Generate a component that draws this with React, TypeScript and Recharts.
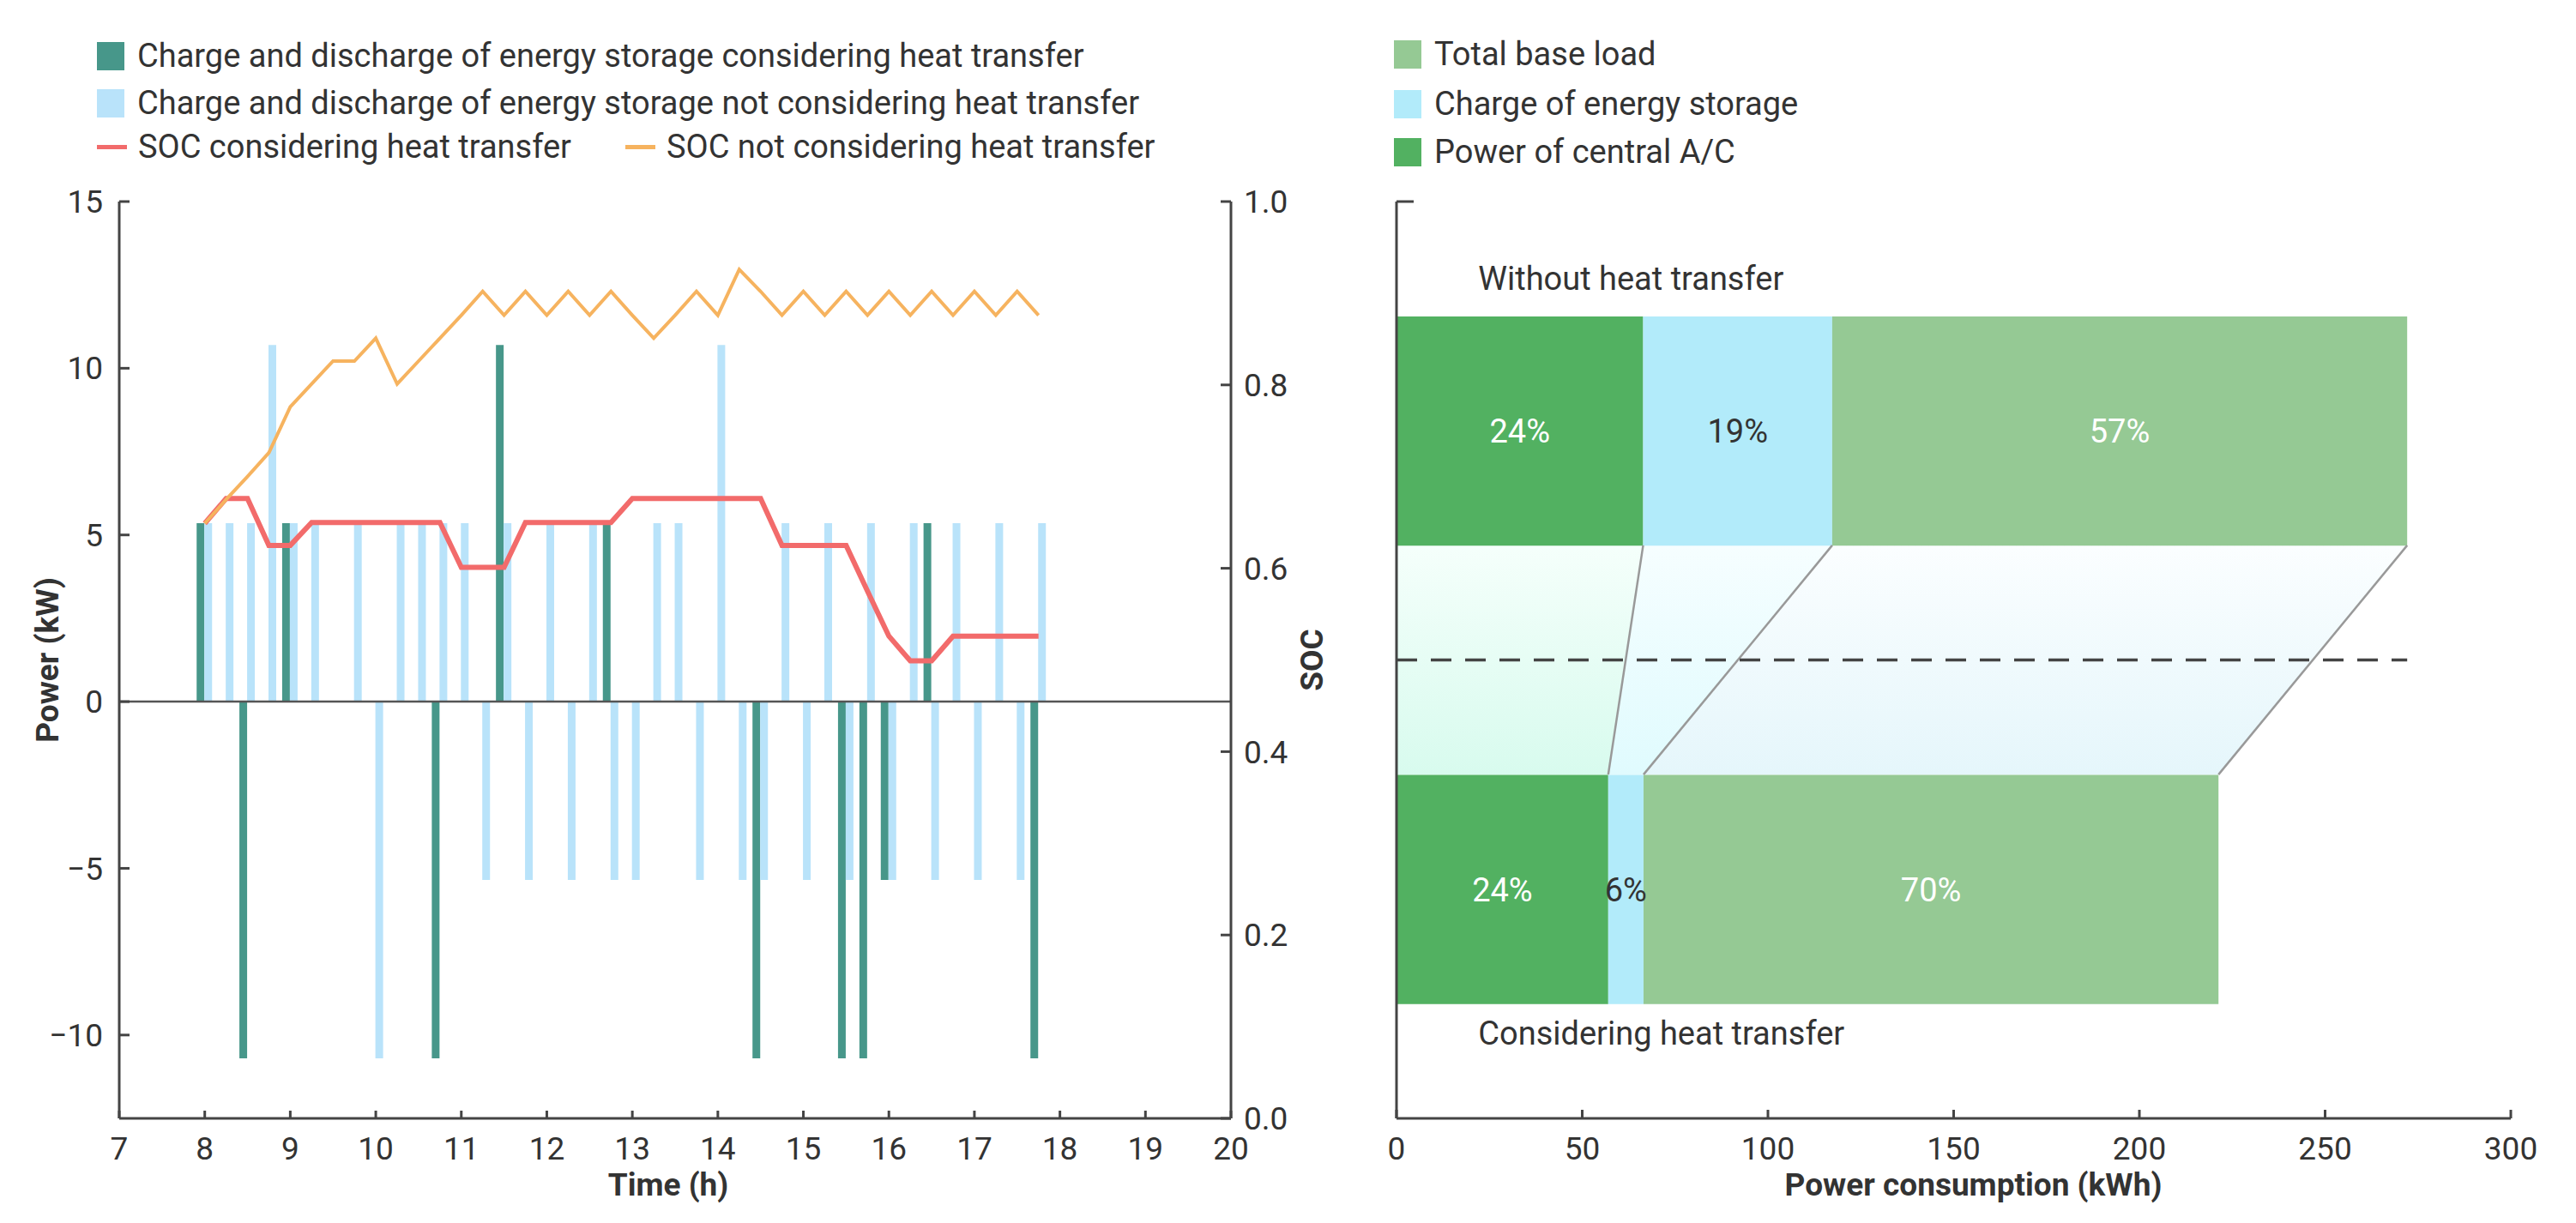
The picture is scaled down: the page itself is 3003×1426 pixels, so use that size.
import React from 'react';
import {
  ComposedChart,
  Bar,
  Line,
  Area,
  XAxis,
  YAxis,
  ReferenceLine,
  ReferenceDot,
  LabelList,
} from 'recharts';

const FONT = 'Roboto, "Noto Sans", sans-serif';
const TEXT = '#333333';
const AXIS = '#444444';

// ---- left panel: storage schedule and SOC ----
const timeSlots = [
  8, 8.25, 8.5, 8.75, 9, 9.25, 9.5, 9.75, 10, 10.25, 10.5, 10.75, 11, 11.25, 11.5, 11.75,
  12, 12.25, 12.5, 12.75, 13, 13.25, 13.5, 13.75, 14, 14.25, 14.5, 14.75, 15, 15.25, 15.5, 15.75,
  16, 16.25, 16.5, 16.75, 17, 17.25, 17.5, 17.75,
];
const powerWithHeat = [
  5.35, 0, -10.7, 0, 5.35, 0, 0, 0, 0, 0, 0, -10.7, 0, 0, 10.7, 0,
  0, 0, 0, 5.35, 0, 0, 0, 0, 0, 0, -10.7, 0, 0, 0, -10.7, -10.7,
  -5.35, 0, 5.35, 0, 0, 0, 0, -10.7,
];
const powerNoHeat = [
  5.35, 5.35, 5.35, 10.7, 5.35, 5.35, 0, 5.35, -10.7, 5.35, 5.35, 5.35, 5.35, -5.35, 5.35, -5.35,
  5.35, -5.35, 5.35, -5.35, -5.35, 5.35, 5.35, -5.35, 10.7, -5.35, -5.35, 5.35, -5.35, 5.35, -5.35, 5.35,
  -5.35, 5.35, -5.35, 5.35, -5.35, 5.35, -5.35, 5.35,
];
const socWithHeat = [
  0.649, 0.676, 0.676, 0.625, 0.625, 0.65, 0.65, 0.65, 0.65, 0.65, 0.65, 0.65, 0.601, 0.601, 0.601, 0.65,
  0.65, 0.65, 0.65, 0.65, 0.676, 0.676, 0.676, 0.676, 0.676, 0.676, 0.676, 0.625, 0.625, 0.625, 0.625, 0.575,
  0.526, 0.499, 0.499, 0.526, 0.526, 0.526, 0.526, 0.526,
];
const socNoHeat = [
  0.649, 0.675, 0.7, 0.726, 0.776, 0.801, 0.826, 0.826, 0.851, 0.801, 0.826, 0.851, 0.876, 0.902, 0.876, 0.902,
  0.876, 0.902, 0.876, 0.902, 0.876, 0.851, 0.876, 0.902, 0.876, 0.926, 0.902, 0.876, 0.902, 0.876, 0.902, 0.876,
  0.902, 0.876, 0.902, 0.876, 0.902, 0.876, 0.902, 0.876,
];
const timeTicks = [7, 8, 9, 10, 11, 12, 13, 14, 15, 16, 17, 18, 19, 20];
const powerTicks = [-10, -5, 0, 5, 10, 15];
const socTicks = [0, 0.2, 0.4, 0.6, 0.8, 1];

// ---- right panel: energy consumption breakdown ----
const rowNames = ['Without heat transfer', 'Considering heat transfer'];
const rowPos = [0.25, 0.75];
const acPower = [66.4, 57.0];
const storagePower = [50.9, 9.5];
const baseLoad = [154.8, 154.8];
const acShare = ['24%', '24%'];
const storageShare = ['19%', '6%'];
const baseShare = ['57%', '70%'];
const consumptionTicks = [0, 50, 100, 150, 200, 250, 300];
const rowTicks = [0, 0.25, 0.5, 0.75, 1];

const BAR_HALF = 0.125;
const PLOT_H = 1069;

const storageData = timeSlots.map((t, i) => ({
  t,
  withHeat: powerWithHeat[i],
  noHeat: powerNoHeat[i],
  socWith: socWithHeat[i],
  socNo: socNoHeat[i],
}));

const consumptionData = rowPos.map((y, i) => ({
  y,
  ac: acPower[i],
  storage: storagePower[i],
  base: baseLoad[i],
  acPct: acShare[i],
  storagePct: storageShare[i],
  basePct: baseShare[i],
}));

const cumulative = rowPos.map((_, i) => [
  acPower[i],
  acPower[i] + storagePower[i],
  acPower[i] + storagePower[i] + baseLoad[i],
]);
const upperEdge = rowPos[0] + BAR_HALF;
const lowerEdge = rowPos[1] - BAR_HALF;

const regions = [0, 1, 2].map((k) => [
  { y: upperEdge, r: [k === 0 ? 0 : cumulative[0][k - 1], cumulative[0][k]] },
  { y: lowerEdge, r: [k === 0 ? 0 : cumulative[1][k - 1], cumulative[1][k]] },
]);
const edges = [0, 1, 2].map((k) => [
  { y: upperEdge, x: cumulative[0][k] },
  { y: lowerEdge, x: cumulative[1][k] },
]);
const regionFills = [
  ['#f5fffb', '#d8fbee'],
  ['#f6feff', '#e0fbfe'],
  ['#fbfeff', '#e5f6fb'],
];

const minus = (v: number) => (v < 0 ? `\u2212${Math.abs(v)}` : `${v}`);

const tickStyle = { fontSize: 37, fill: TEXT, fontFamily: FONT };
const titleStyle = { fontSize: 37, fontWeight: 700, fill: TEXT, fontFamily: FONT };

const TopTick = (props: any) => {
  if (props.payload?.value !== 0) return <g />;
  return <line x1={props.x} x2={props.x + 20} y1={props.y} y2={props.y} stroke={AXIS} strokeWidth={3} />;
};

type LegendItem = { kind: 'rect' | 'line'; color: string; text: string; x: number; y: number };

const leftLegend: LegendItem[] = [
  { kind: 'rect', color: '#47978a', text: 'Charge and discharge of energy storage considering heat transfer', x: 113, y: 65 },
  { kind: 'rect', color: '#b9e3fa', text: 'Charge and discharge of energy storage not considering heat transfer', x: 113, y: 120 },
  { kind: 'line', color: '#f26b6b', text: 'SOC considering heat transfer', x: 113, y: 171 },
  { kind: 'line', color: '#f6b35f', text: 'SOC not considering heat transfer', x: 729, y: 171 },
];
const rightLegend: LegendItem[] = [
  { kind: 'rect', color: '#95c994', text: 'Total base load', x: 1625, y: 63 },
  { kind: 'rect', color: '#b2ebfa', text: 'Charge of energy storage', x: 1625, y: 121 },
  { kind: 'rect', color: '#52b161', text: 'Power of central A/C', x: 1625, y: 177 },
];

const LegendEntry = ({ item }: { item: LegendItem }) => (
  <div
    style={{
      position: 'absolute',
      left: item.x,
      top: item.y - 25,
      height: 50,
      display: 'flex',
      alignItems: 'center',
      whiteSpace: 'nowrap',
      fontSize: 38,
      color: TEXT,
    }}
  >
    <span
      style={{
        display: 'inline-block',
        flex: 'none',
        width: item.kind === 'rect' ? 32 : 35,
        height: item.kind === 'rect' ? 33 : 5,
        background: item.color,
        marginRight: item.kind === 'rect' ? 15 : 13,
      }}
    />
    {item.text}
  </div>
);

const StorageChart = () => (
  <ComposedChart
    width={1640}
    height={1426}
    data={storageData}
    margin={{ top: 235, right: 17, bottom: 0, left: 0 }}
    barGap={0}
    style={{ fontFamily: FONT }}
  >
    <XAxis
      type="number"
      dataKey="t"
      domain={[7, 20]}
      ticks={timeTicks}
      interval={0}
      height={122}
      stroke={AXIS}
      strokeWidth={3}
      tickSize={-9}
      tickMargin={31}
      tick={tickStyle}
      label={{ value: 'Time (h)', position: 'insideBottom', offset: 32, dx: -8, ...titleStyle }}
    />
    <YAxis
      yAxisId="p"
      domain={[-12.5, 15]}
      ticks={powerTicks}
      interval={0}
      width={139}
      stroke={AXIS}
      strokeWidth={3}
      tickSize={-12}
      tickMargin={31}
      tick={tickStyle}
      tickFormatter={minus}
      label={{ value: 'Power (kW)', angle: -90, position: 'center', dx: -15, ...titleStyle }}
    />
    <YAxis
      yAxisId="soc"
      orientation="right"
      domain={[0, 1]}
      ticks={socTicks}
      interval={0}
      width={188}
      stroke={AXIS}
      strokeWidth={3}
      tickSize={-12}
      tickMargin={27}
      tick={tickStyle}
      tickFormatter={(v: number) => v.toFixed(1)}
      label={{ value: 'SOC', angle: -90, position: 'center', ...titleStyle }}
    />
    <ReferenceLine yAxisId="p" y={0} stroke="#555555" strokeWidth={2.5} />
    <Bar yAxisId="p" dataKey="withHeat" fill="#47978a" barSize={9} isAnimationActive={false} />
    <Bar yAxisId="p" dataKey="noHeat" fill="#b9e3fa" barSize={9} isAnimationActive={false} />
    <Line
      yAxisId="soc"
      dataKey="socWith"
      type="linear"
      stroke="#f26b6b"
      strokeWidth={6}
      dot={false}
      isAnimationActive={false}
    />
    <Line
      yAxisId="soc"
      dataKey="socNo"
      type="linear"
      stroke="#f6b35f"
      strokeWidth={4}
      dot={false}
      isAnimationActive={false}
    />
  </ComposedChart>
);

const ConsumptionChart = () => (
  <ComposedChart
    layout="vertical"
    width={1503}
    height={1426}
    data={consumptionData}
    margin={{ top: 235, right: 76, bottom: 0, left: 0 }}
    style={{ fontFamily: FONT }}
  >
    <defs>
      {regionFills.map((c, i) => (
        <linearGradient key={i} id={`region${i}`} x1="0" y1="0" x2="0" y2="1">
          <stop offset="0%" stopColor={c[0]} />
          <stop offset="100%" stopColor={c[1]} />
        </linearGradient>
      ))}
    </defs>
    <XAxis
      type="number"
      domain={[0, 300]}
      ticks={consumptionTicks}
      interval={0}
      height={122}
      stroke={AXIS}
      strokeWidth={3}
      tickSize={-10}
      tickMargin={32}
      tick={tickStyle}
      label={{ value: 'Power consumption (kWh)', position: 'insideBottom', offset: 32, dx: 23, ...titleStyle }}
    />
    <YAxis
      type="number"
      dataKey="y"
      domain={[0, 1]}
      ticks={rowTicks}
      interval={0}
      width={128}
      stroke={AXIS}
      strokeWidth={3}
      tickLine={false}
      tickSize={0}
      tickMargin={0}
      tick={<TopTick />}
    />
    <YAxis yAxisId="edge" type="number" dataKey="y" domain={[0, 1]} hide />
    {regions.map((d, i) => (
      <Area
        key={`a${i}`}
        yAxisId="edge"
        data={d}
        dataKey="r"
        type="linear"
        stroke="none"
        fill={`url(#region${i})`}
        fillOpacity={1}
        isAnimationActive={false}
      />
    ))}
    {edges.map((d, i) => (
      <Line
        key={`e${i}`}
        yAxisId="edge"
        data={d}
        dataKey="x"
        type="linear"
        stroke="#999999"
        strokeWidth={2.5}
        dot={false}
        isAnimationActive={false}
      />
    ))}
    <Bar dataKey="ac" stackId="s" fill="#52b161" barSize={PLOT_H * 2 * BAR_HALF} isAnimationActive={false}>
      <LabelList dataKey="acPct" position="center" fill="#ffffff" fontSize={38} />
    </Bar>
    <Bar dataKey="storage" stackId="s" fill="#b2ebfa" barSize={PLOT_H * 2 * BAR_HALF} isAnimationActive={false}>
      <LabelList dataKey="storagePct" position="center" fill={TEXT} fontSize={38} />
    </Bar>
    <Bar dataKey="base" stackId="s" fill="#95c994" barSize={PLOT_H * 2 * BAR_HALF} isAnimationActive={false}>
      <LabelList dataKey="basePct" position="center" fill="#ffffff" fontSize={38} />
    </Bar>
    <ReferenceLine
      segment={[
        { x: 0, y: 0.5 },
        { x: cumulative[0][2], y: 0.5 },
      ]}
      stroke={AXIS}
      strokeWidth={3.5}
      strokeDasharray="24 16"
    />
    <ReferenceDot
      x={22}
      y={0.084}
      r={0}
      fill="none"
      stroke="none"
      label={{ value: rowNames[0], position: 'right', offset: 0, fontSize: 38, fill: TEXT }}
    />
    <ReferenceDot
      x={22}
      y={0.907}
      r={0}
      fill="none"
      stroke="none"
      label={{ value: rowNames[1], position: 'right', offset: 0, fontSize: 38, fill: TEXT }}
    />
  </ComposedChart>
);

export default function App() {
  return (
    <div
      style={{
        position: 'absolute',
        left: 0,
        top: 0,
        width: 3003,
        height: 1426,
        background: '#ffffff',
        overflow: 'hidden',
        fontFamily: FONT,
      }}
    >
      <div style={{ position: 'absolute', left: 0, top: 0 }}>
        <StorageChart />
      </div>
      <div style={{ position: 'absolute', left: 1500, top: 0 }}>
        <ConsumptionChart />
      </div>
      {leftLegend.map((item) => (
        <LegendEntry key={item.text} item={item} />
      ))}
      {rightLegend.map((item) => (
        <LegendEntry key={item.text} item={item} />
      ))}
    </div>
  );
}
